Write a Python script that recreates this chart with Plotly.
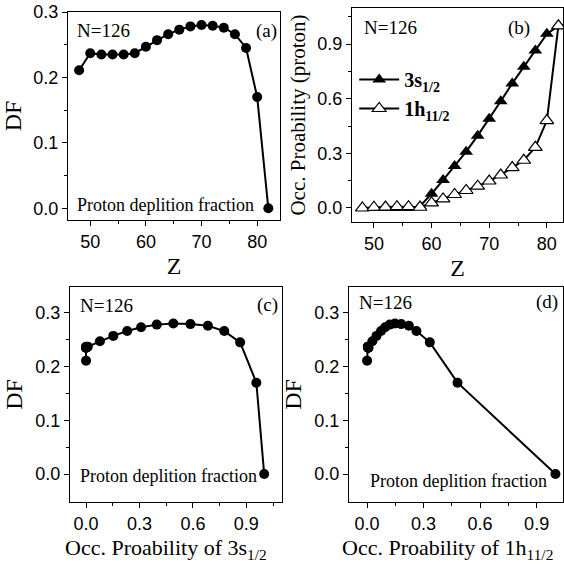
import plotly.graph_objects as go

# ---- data ----
Z = [48, 50, 52, 54, 56, 58, 60, 62, 64, 66, 68, 70, 72, 74, 76, 78, 80, 82]
DF = [0.211, 0.237, 0.235, 0.235, 0.235, 0.237, 0.247, 0.257, 0.266, 0.273,
      0.278, 0.280, 0.279, 0.276, 0.266, 0.245, 0.170, 0.0]
occ_3s = [0.0, 0.0, 0.0, 0.0, 0.0, 0.01, 0.078, 0.153, 0.231, 0.309,
          0.397, 0.490, 0.586, 0.684, 0.776, 0.865, 0.956, 1.0]
occ_1h = [0.0, 0.004, 0.005, 0.007, 0.007, 0.004, 0.028, 0.050, 0.074, 0.096,
          0.120, 0.148, 0.181, 0.222, 0.262, 0.333, 0.480, 1.0]

W, H = 564, 569
SERIF = "Liberation Serif"
SANS = "Liberation Sans"
BLACK = "black"

def dom_x(p0, p1):
    return [p0 / W, p1 / W]

def dom_y(p0, p1):
    return [1 - p1 / H, 1 - p0 / H]

panels = {
    1: dict(dx=dom_x(68, 280), dy=dom_y(12, 220), xr=[46, 84.1], yr=[-0.018, 0.3],
            xt=dict(tickvals=[50, 60, 70, 80], ticktext=["50", "60", "70", "80"], minor=[55, 65, 75]),
            yt=dict(tickvals=[0.0, 0.1, 0.2, 0.3], ticktext=["0.0", "0.1", "0.2", "0.3"], minor=[0.05, 0.15, 0.25])),
    2: dict(dx=dom_x(352, 563), dy=dom_y(8, 222), xr=[46.2, 82.8], yr=[-0.077, 1.098],
            xt=dict(tickvals=[50, 60, 70, 80], ticktext=["50", "60", "70", "80"], minor=[55, 65, 75]),
            yt=dict(tickvals=[0.0, 0.3, 0.6, 0.9], ticktext=["0.0", "0.3", "0.6", "0.9"], minor=[0.15, 0.45, 0.75, 1.05])),
    3: dict(dx=dom_x(70, 282), dy=dom_y(287, 502), xr=[-0.09, 1.1], yr=[-0.052, 0.348],
            xt=dict(tickvals=[0.0, 0.3, 0.6, 0.9], ticktext=["0.0", "0.3", "0.6", "0.9"], minor=[0.15, 0.45, 0.75, 1.05]),
            yt=dict(tickvals=[0.0, 0.1, 0.2, 0.3], ticktext=["0.0", "0.1", "0.2", "0.3"], minor=[0.05, 0.15, 0.25])),
    4: dict(dx=dom_x(349, 563), dy=dom_y(287, 502), xr=[-0.096, 1.04], yr=[-0.052, 0.348],
            xt=dict(tickvals=[0.0, 0.3, 0.6, 0.9], ticktext=["0.0", "0.3", "0.6", "0.9"], minor=[0.15, 0.45, 0.75]),
            yt=dict(tickvals=[0.0, 0.1, 0.2, 0.3], ticktext=["0.0", "0.1", "0.2", "0.3"], minor=[0.05, 0.15, 0.25])),
}

fig = go.Figure()

circ = dict(symbol="circle", size=10, color=BLACK)
line = dict(color=BLACK, width=2)

# (a)
fig.add_trace(go.Scatter(x=Z, y=DF, mode="lines+markers", marker=circ, line=line,
                         xaxis="x", yaxis="y", showlegend=False))
# (b)
fig.add_trace(go.Scatter(x=Z, y=occ_3s, mode="lines+markers", name="<b>3s<sub>1/2</sub></b>",
                         marker=dict(symbol="triangle-up", size=12, color=BLACK),
                         line=line, xaxis="x2", yaxis="y2"))
fig.add_trace(go.Scatter(x=Z, y=occ_1h, mode="lines+markers", name="<b>1h<sub>11/2</sub></b>",
                         marker=dict(symbol="triangle-up", size=12, color="white",
                                     line=dict(color=BLACK, width=1.2)),
                         line=line, xaxis="x2", yaxis="y2"))
# (c)
fig.add_trace(go.Scatter(x=occ_3s, y=DF, mode="lines+markers", marker=circ, line=line,
                         xaxis="x3", yaxis="y3", showlegend=False))
# (d)
fig.add_trace(go.Scatter(x=occ_1h, y=DF, mode="lines+markers", marker=circ, line=line,
                         xaxis="x4", yaxis="y4", showlegend=False))

tickfont = dict(family=SANS, size=18, color=BLACK)
titlefont = dict(family=SERIF, size=24, color=BLACK)

xtitles = {1: "Z", 2: "Z"}
ytitles = {1: "DF", 2: "Occ. Proability (proton)", 3: "DF", 4: "DF"}

layout = {}
for i, p in panels.items():
    sx = "" if i == 1 else str(i)
    xname, yname = "xaxis" + sx, "yaxis" + sx
    xid, yid = "x" + sx, "y" + sx
    common = dict(showline=True, linecolor=BLACK, linewidth=1.3, ticks="outside", ticklen=5,
                  tickwidth=1.2, tickcolor=BLACK, showgrid=False, zeroline=False,
                  tickfont=tickfont, mirror=True, automargin=False)
    ytf = dict(titlefont, size=21) if i == 2 else titlefont
    layout[xname] = dict(common, domain=p["dx"], range=p["xr"], anchor=yid,
                         tickmode="array", tickvals=p["xt"]["tickvals"], ticktext=p["xt"]["ticktext"],
                         minor=dict(tickmode="array", tickvals=p["xt"]["minor"], ticks="outside",
                                    ticklen=3, tickcolor=BLACK, tickwidth=1))
    if i in xtitles:
        layout[xname]["title"] = dict(text=xtitles[i], font=titlefont, standoff=6)
    layout[yname] = dict(common, domain=p["dy"], range=p["yr"], anchor=xid,
                         tickmode="array", tickvals=p["yt"]["tickvals"], ticktext=p["yt"]["ticktext"],
                         minor=dict(tickmode="array", tickvals=p["yt"]["minor"], ticks="outside",
                                    ticklen=3, tickcolor=BLACK, tickwidth=1),
                         title=dict(text=ytitles[i], font=ytf, standoff=5))
    # mirrored inward ticks (top / right)
    ox = "xaxis" + str(i + 4)
    oy = "yaxis" + str(i + 4)
    layout[ox] = dict(overlaying=xid, anchor=yid, side="top", range=p["xr"], domain=p["dx"],
                      showline=False, ticks="inside", ticklen=5, tickwidth=1.2, tickcolor=BLACK,
                      showticklabels=False, showgrid=False, zeroline=False, automargin=False,
                      tickmode="array", tickvals=p["xt"]["tickvals"],
                      minor=dict(tickmode="array", tickvals=p["xt"]["minor"], ticks="inside",
                                 ticklen=3, tickcolor=BLACK, tickwidth=1))
    layout[oy] = dict(overlaying=yid, anchor=xid, side="right", range=p["yr"], domain=p["dy"],
                      showline=False, ticks="inside", ticklen=5, tickwidth=1.2, tickcolor=BLACK,
                      showticklabels=False, showgrid=False, zeroline=False, automargin=False,
                      tickmode="array", tickvals=p["yt"]["tickvals"],
                      minor=dict(tickmode="array", tickvals=p["yt"]["minor"], ticks="inside",
                                 ticklen=3, tickcolor=BLACK, tickwidth=1))

ann_font = dict(family=SERIF, size=19, color=BLACK)
small_font = dict(family=SERIF, size=18, color=BLACK)
annotations = []
def ann(sx, x, y, text, xanchor, font):
    annotations.append(dict(xref="x" + sx + " domain", yref="y" + sx + " domain", x=x, y=y,
                            text=text, showarrow=False, xanchor=xanchor, yanchor="middle", font=font))

ann("", 0.033, 0.909, "N=126", "left", ann_font)
ann("", 0.995, 0.909, "(a)", "right", ann_font)
ann("", 0.033, 0.072, "Proton deplition fraction", "left", small_font)
ann("2", 0.047, 0.907, "N=126", "left", ann_font)
ann("2", 0.853, 0.907, "(b)", "right", ann_font)
ann("3", 0.038, 0.916, "N=126", "left", ann_font)
ann("3", 0.99, 0.916, "(c)", "right", ann_font)
ann("3", 0.038, 0.121, "Proton deplition fraction", "left", small_font)
ann("4", 0.037, 0.93, "N=126", "left", ann_font)
ann("4", 0.986, 0.93, "(d)", "right", ann_font)
ann("4", 0.089, 0.098, "Proton deplition fraction", "left", small_font)

# bottom axis titles of (c) and (d)
for cx, txt in [(166, "Occ. Proability of 3s<sub>1/2</sub>"), (447, "Occ. Proability of 1h<sub>11/2</sub>")]:
    annotations.append(dict(xref="paper", yref="paper", x=cx / W, y=1 - 549 / H, text=txt,
                            showarrow=False, xanchor="center", yanchor="middle",
                            font=dict(family=SERIF, size=22, color=BLACK)))

fig.update_layout(
    width=W, height=H,
    margin=dict(l=0, r=0, t=0, b=0, autoexpand=False),
    paper_bgcolor="white", plot_bgcolor="white",
    showlegend=True,
    legend=dict(x=0.628, y=1 - 60 / H, xanchor="left", yanchor="top",
                font=dict(family=SERIF, size=20, color=BLACK),
                bgcolor="rgba(0,0,0,0)", itemwidth=40, tracegroupgap=0),
    annotations=annotations,
    **layout,
)

fig.write_html("out.html", config={"displayModeBar": False},
               post_script="document.body.style.margin='0';document.body.style.padding='0';")
